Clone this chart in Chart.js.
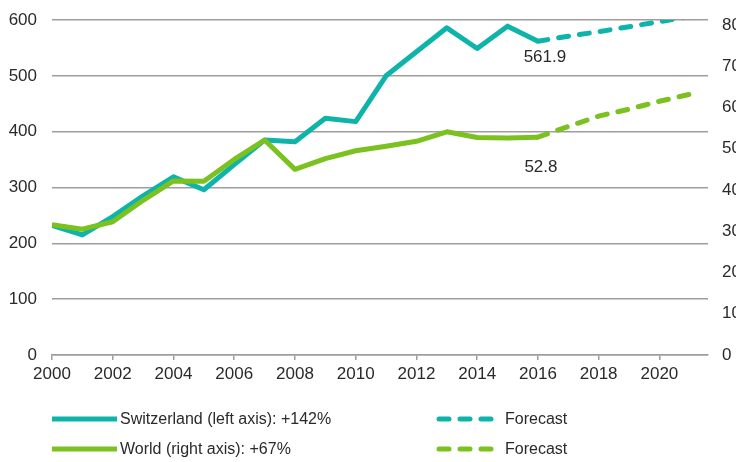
<!DOCTYPE html>
<html><head><meta charset="utf-8">
<script src="https://cdn.jsdelivr.net/npm/chart.js@4/dist/chart.umd.min.js"></script>
<style>
html,body{margin:0;padding:0;overflow:hidden;background:#fff;width:736px;height:462px}
#wrap{width:770px;height:462px;position:relative}
</style></head>
<body><div id="wrap"><canvas id="c" width="770" height="462"></canvas></div>
<script>
const years = [2000,2001,2002,2003,2004,2005,2006,2007,2008,2009,2010,2011,2012,2013,2014,2015,2016];
const swiss = [232,215,248,285,319,296,341,385,382,424,418,500,543,586,549,589,561.9];
const world = [31.6,30.5,32.3,37.5,42.2,42.1,47.4,52.1,45.0,47.6,49.5,50.6,51.8,54.1,52.7,52.6,52.8];
const forecastYears = [2016,2017,2018,2019,2020,2021];
const swissForecast = [561.9,571,579,588,597,606];
const worldForecast = [52.8,55.4,57.9,59.6,61.5,63.2];
const xTicks = [2000,2002,2004,2006,2008,2010,2012,2014,2016,2018,2020];
const leftTicks = [0,100,200,300,400,500,600];
const rightTicks = [0,10,20,30,40,50,60,70,80];
const legendLabels = ["Switzerland (left axis): +142%","Forecast","World (right axis): +67%","Forecast"];

const TEAL = '#0EB3A9';
const GREEN = '#7BC11F';
const GRID = '#9e9e9e';
const TXT = '#2a2a2a';
const FONT = '"Liberation Sans", Arial, Helvetica, sans-serif';

const pts = (xs, ys) => xs.map((x,i)=>({x:x, y:ys[i]}));

const labelPlugin = {
  id:'labels',
  afterDatasetsDraw(chart){
    const ctx = chart.ctx, xs = chart.scales.x, yl = chart.scales.y, yr = chart.scales.y1;
    const lastYear = years[years.length-1];
    const sv = swiss[swiss.length-1], wv = world[world.length-1];
    ctx.save();
    ctx.font = '17px ' + FONT;
    ctx.fillStyle = TXT;
    ctx.textAlign = 'center';
    ctx.textBaseline = 'middle';
    ctx.fillText(sv.toFixed(1), xs.getPixelForValue(lastYear)+7, yl.getPixelForValue(sv)+16);
    ctx.fillText(wv.toFixed(1), xs.getPixelForValue(lastYear)+3, yr.getPixelForValue(wv)+30);
    ctx.restore();
  }
};

const legendPlugin = {
  id:'customLegend',
  afterDraw(chart){
    const ctx = chart.ctx;
    const rows = [419, 449];
    const cols = [{x0:52,x1:117,tx:120},{x0:439,x1:492,tx:505}];
    const colors = [TEAL, TEAL, GREEN, GREEN];
    ctx.save();
    ctx.font = '16px ' + FONT;
    ctx.textBaseline = 'middle';
    ctx.textAlign = 'left';
    for(let i=0;i<4;i++){
      const r = rows[Math.floor(i/2)], c = cols[i%2];
      ctx.strokeStyle = colors[i];
      ctx.lineWidth = 5;
      if(i%2===1){ ctx.setLineDash([10,11]); ctx.lineCap='round'; }
      else { ctx.setLineDash([]); ctx.lineCap='butt'; }
      ctx.beginPath(); ctx.moveTo(c.x0, r); ctx.lineTo(c.x1, r); ctx.stroke();
      ctx.fillStyle = TXT;
      ctx.fillText(legendLabels[i], c.tx, r+1);
    }
    ctx.restore();
  }
};

new Chart(document.getElementById('c'), {
  type:'line',
  data:{
    datasets:[
      {data: pts(years, world), yAxisID:'y1', borderColor:GREEN, borderWidth:5, pointRadius:0, tension:0, borderJoinStyle:'round'},
      {data: pts(years, swiss), yAxisID:'y', borderColor:TEAL, borderWidth:5, pointRadius:0, tension:0, borderJoinStyle:'round'},
      {data: pts(forecastYears, worldForecast), yAxisID:'y1', borderColor:GREEN, borderWidth:5, pointRadius:0, tension:0, borderDash:[10,11], borderCapStyle:'round'},
      {data: pts(forecastYears, swissForecast), yAxisID:'y', borderColor:TEAL, borderWidth:5, pointRadius:0, tension:0, borderDash:[10,11], borderCapStyle:'round'}
    ]
  },
  options:{
    responsive:false,
    animation:false,
    events:[],
    layout:{padding:{top:20,bottom:77,left:0,right:0}},
    plugins:{legend:{display:false}, tooltip:{enabled:false}},
    scales:{
      x:{
        type:'linear', min:2000, max:2021.6,
        afterBuildTicks: s => { s.ticks = xTicks.map(v=>({value:v})); },
        afterFit: s => { s.height = 30; s.paddingLeft = 0; s.paddingRight = 0; },
        grid:{drawOnChartArea:false, drawTicks:true, tickLength:5, color:GRID, lineWidth:1.5},
        border:{display:true, color:GRID, width:1.5},
        ticks:{color:TXT, font:{family:FONT, size:17}, padding:4, maxRotation:0, autoSkip:false, callback:v=>String(v)}
      },
      y:{
        position:'left', min:0, max:600,
        afterBuildTicks: s => { s.ticks = leftTicks.map(v=>({value:v})); },
        afterFit: s => { s.width = 52; s.paddingTop = 0; s.paddingBottom = 0; },
        grid:{drawTicks:false, color:GRID, lineWidth:1.5},
        border:{display:false},
        ticks:{color:TXT, font:{family:FONT, size:17}, padding:15}
      },
      y1:{
        position:'right', min:0, max:81.2,
        afterBuildTicks: s => { s.ticks = rightTicks.map(v=>({value:v})); },
        afterFit: s => { s.width = 62; s.paddingTop = 0; s.paddingBottom = 0; },
        grid:{display:false, drawTicks:false},
        border:{display:false},
        ticks:{color:TXT, font:{family:FONT, size:17}, padding:14}
      }
    }
  },
  plugins:[labelPlugin, legendPlugin]
});
</script>
</body></html>
